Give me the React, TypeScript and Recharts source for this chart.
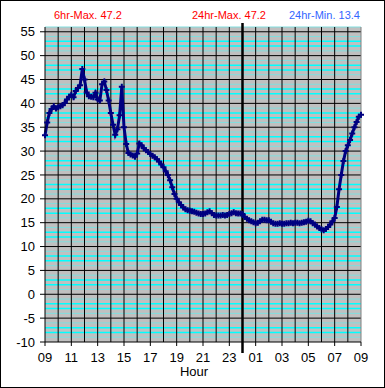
import { LineChart, Line, XAxis, YAxis, ReferenceLine, ReferenceArea } from 'recharts';

// temperature every 10 minutes, starting 09:00 and ending 09:00 next day
const temps = [
  33.3, 36.0, 38.0, 38.8, 39.4, 38.9,
  39.2, 39.4, 39.6, 40.1, 40.8, 41.4,
  41.8, 41.3, 42.6, 43.2, 43.8, 47.2,
  45.0, 42.3, 41.5, 41.4, 41.3, 42.2,
  40.8, 40.6, 44.0, 44.6, 42.8, 40.6,
  38.0, 35.5, 33.4, 34.6, 37.5, 43.5,
  35.0, 31.5, 29.6, 29.3, 29.1, 28.8,
  29.5, 31.6, 31.2, 30.6, 30.2, 29.8,
  29.4, 29.0, 28.7, 28.3, 27.8, 27.2,
  26.6, 25.8, 25.0, 23.9, 22.4, 21.0,
  20.0, 19.3, 18.7, 18.2, 17.8, 17.6,
  17.5, 17.4, 17.3, 17.1, 16.9, 16.8,
  16.8, 16.9, 17.2, 17.4, 17.0, 16.6,
  16.5, 16.5, 16.5, 16.6, 16.5, 16.6,
  16.8, 17.0, 17.2, 17.0, 16.9, 16.9,
  16.8, 16.2, 15.8, 15.5, 15.3, 15.1,
  14.9, 15.0, 15.3, 15.6, 15.6, 15.5,
  15.5, 15.2, 14.9, 14.8, 14.8, 14.9,
  14.8, 14.8, 14.9, 14.9, 15.0, 14.9,
  15.0, 15.0, 14.9, 15.0, 15.1, 15.2,
  15.4, 15.3, 14.9, 14.6, 14.2, 13.9,
  13.6, 13.4, 13.7, 14.1, 14.6, 15.3,
  16.0, 18.3, 22.0, 25.0, 27.9, 30.0,
  31.2, 32.3, 33.7, 35.0, 36.1, 37.2,
  37.6,
];

const xTicks = [0, 2, 4, 6, 8, 10, 12, 14, 16, 18, 20, 22, 24];
const xLabels = ['09', '11', '13', '15', '17', '19', '21', '23', '01', '03', '05', '07', '09'];
const hourLines = [1, 2, 3, 4, 5, 6, 7, 8, 9, 10, 11, 12, 13, 14, 16, 17, 18, 19, 20, 21, 22, 23];
const midnight = 15;
const yTicks = [-10, -5, 0, 5, 10, 15, 20, 25, 30, 35, 40, 45, 50, 55];

const data = temps.map((v, i) => ({ t: i / 6, temp: v }));
const minorDim = yTicks.flatMap((t) => [t + 1, t + 4]);
const minorBright = yTicks.flatMap((t) => [t + 2, t + 3]);

const font = '"Liberation Sans", Arial, sans-serif';
const NAVY = '#000080';

const PlusDot = (props: { cx?: number; cy?: number; index?: number }) => {
  const { cx, cy, index } = props;
  if (cx == null || cy == null) return <g key={index} />;
  return (
    <path key={index} d={`M${cx - 3},${cy}H${cx + 3}M${cx},${cy - 3}V${cy + 3}`} stroke={NAVY} strokeWidth={2} fill="none" />
  );
};

const MidnightLine = (props: { x1?: number; x2?: number; y1?: number; y2?: number }) => {
  const x = props.x1 ?? 0;
  const top = Math.min(props.y1 ?? 0, props.y2 ?? 0);
  const bot = Math.max(props.y1 ?? 0, props.y2 ?? 0);
  return <line x1={x} x2={x} y1={top - 4} y2={bot + 11} stroke="#000" strokeWidth={2.5} />;
};

export default function App() {
  return (
    <div style={{ position: 'relative', width: 385, height: 388, boxSizing: 'border-box', border: '1px solid #000', background: '#fff', fontFamily: font }}>
      <style>{`body{margin:0}`}</style>
      <div style={{ position: 'absolute', left: 53, top: 8, fontSize: 11, color: '#ff0000' }}>6hr-Max. 47.2</div>
      <div style={{ position: 'absolute', left: 191, top: 8, fontSize: 11, color: '#ff0000' }}>24hr-Max. 47.2</div>
      <div style={{ position: 'absolute', left: 288, top: 8, fontSize: 11, color: '#3366ff' }}>24hr-Min. 13.4</div>
      <div style={{ position: 'absolute', left: -1, top: -1 }}>
        <LineChart width={385} height={388} data={data} margin={{ top: 27, right: 24, bottom: 16, left: 0 }}>
          <XAxis
            dataKey="t"
            type="number"
            domain={[0, 24]}
            ticks={xTicks}
            tickFormatter={(v: number) => xLabels[xTicks.indexOf(v)] ?? ''}
            interval={0}
            height={30}
            tickSize={4}
            tickMargin={7}
            axisLine={{ stroke: '#000' }}
            tickLine={{ stroke: '#000' }}
            tick={{ fill: '#000', fontSize: 13, fontFamily: font }}
            label={{ value: 'Hour', position: 'bottom', offset: -5, dx: -9, fill: '#000', fontSize: 13, fontFamily: font }}
          />
          <YAxis
            type="number"
            domain={[-10, 56]}
            ticks={yTicks}
            interval={0}
            width={45}
            tickSize={5}
            tickMargin={5}
            axisLine={{ stroke: '#000' }}
            tickLine={{ stroke: '#000' }}
            tick={{ fill: '#000', fontSize: 13, fontFamily: font }}
          />
          <ReferenceArea x1={0} x2={24} y1={-10} y2={56} fill="#c0c0c0" fillOpacity={1} stroke="none" />
          {minorDim.map((v) => (
            <ReferenceLine key={`d${v}`} y={v} stroke="#80dede" strokeWidth={1} />
          ))}
          {minorBright.map((v) => (
            <ReferenceLine key={`b${v}`} y={v} stroke="#00ffff" strokeWidth={1.5} />
          ))}
          {yTicks.slice(1).map((v) => (
            <ReferenceLine key={`y${v}`} y={v} stroke="#000" strokeWidth={1} />
          ))}
          {hourLines.map((h) => (
            <ReferenceLine key={`h${h}`} x={h} stroke="#000" strokeWidth={1} />
          ))}
          <ReferenceLine x={24} stroke="#808080" strokeWidth={1} />
          <ReferenceLine x={midnight} stroke="#000" shape={MidnightLine} />
          <Line
            type="linear"
            dataKey="temp"
            stroke={NAVY}
            strokeWidth={3}
            dot={PlusDot}
            activeDot={false}
            isAnimationActive={false}
          />
        </LineChart>
      </div>
    </div>
  );
}
